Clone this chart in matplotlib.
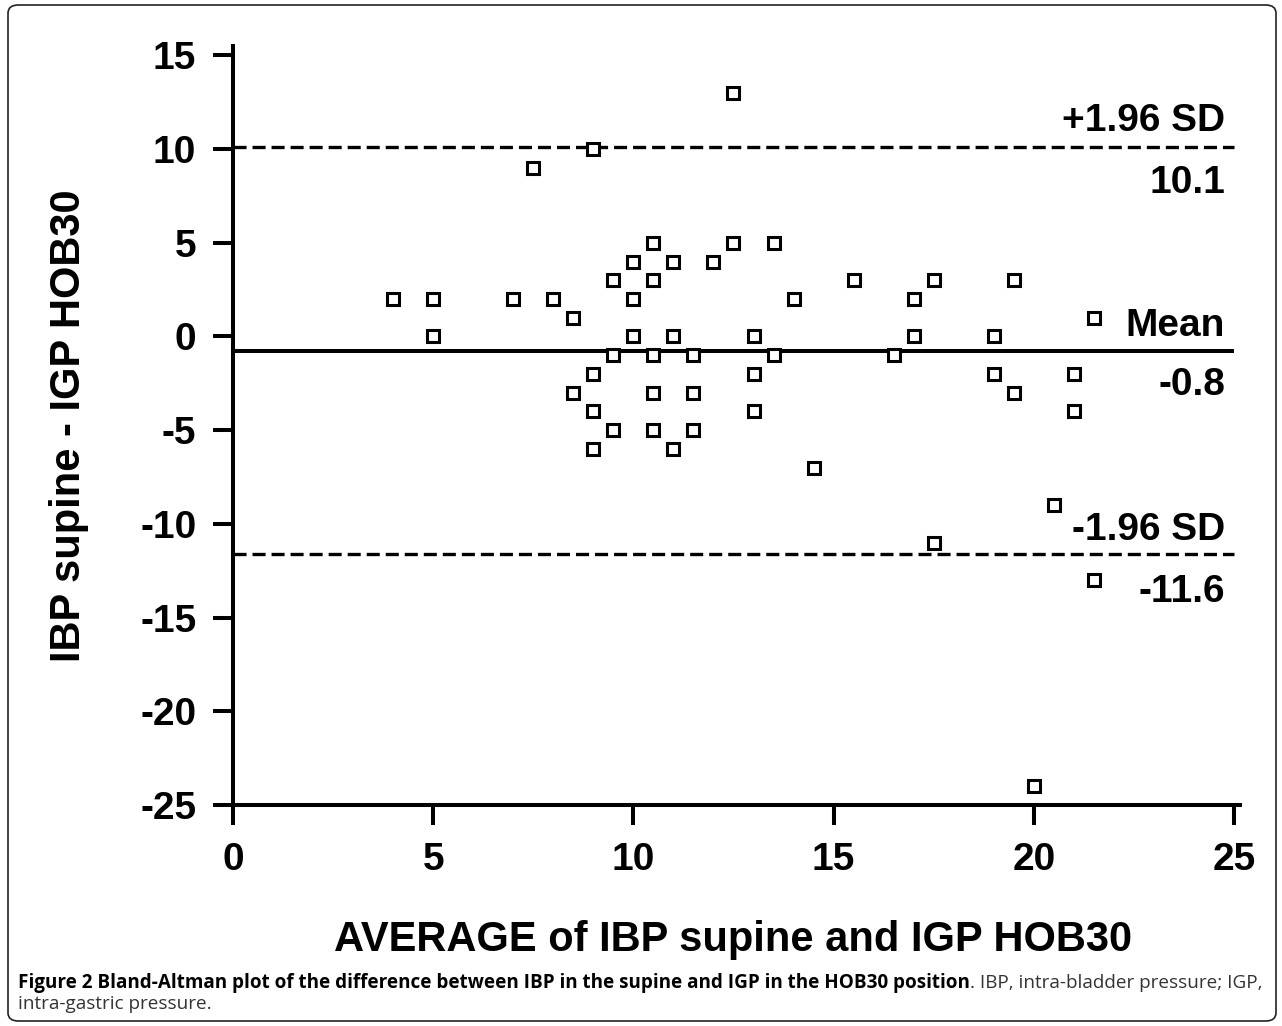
import matplotlib
matplotlib.use('Agg')
import matplotlib.pyplot as plt
from matplotlib.patches import FancyBboxPatch

# ---- data ----
avg = [4, 5, 5, 7, 8, 8.5, 9.5, 10, 10.5, 10.5, 11, 10, 12, 12.5, 13.5, 14,
       10, 11, 13, 9.5, 10.5, 11.5, 13.5, 9, 13, 8.5, 10.5, 11.5, 9, 13,
       9.5, 10.5, 11.5, 9, 11, 14.5, 12.5, 9, 7.5, 15.5, 17, 17.5, 19.5, 21.5,
       17, 19, 16.5, 19, 19.5, 21, 21, 20.5, 17.5, 21.5, 20]
diff = [2, 2, 0, 2, 2, 1, 3, 4, 5, 3, 4, 2, 4, 5, 5, 2,
        0, 0, 0, -1, -1, -1, -1, -2, -2, -3, -3, -3, -4, -4,
        -5, -5, -5, -6, -6, -7, 13, 10, 9, 3, 2, 3, 3, 1,
        0, 0, -1, -2, -3, -2, -4, -9, -11, -13, -24]
mean_diff = -0.8
upper_loa = 10.1
lower_loa = -11.6
x_ticks = [0, 5, 10, 15, 20, 25]
y_ticks = [-25, -20, -15, -10, -5, 0, 5, 10, 15]
x_label = "AVERAGE of IBP supine and IGP HOB30"
y_label = "IBP supine - IGP HOB30"
caption_bold = "Figure 2 Bland-Altman plot of the difference between IBP in the supine and IGP in the HOB30 position"
caption_rest1 = ". IBP, intra-bladder pressure; IGP,"
caption_line2 = "intra-gastric pressure."

plt.rcParams['lines.scale_dashes'] = False
plt.rcParams['axes.unicode_minus'] = False
W, H = 1282, 1026
fig = plt.figure(figsize=(W / 100, H / 100), dpi=100)
ax = fig.add_axes([233 / W, (H - 805) / H, 1007 / W, 759 / H])
ax.set_xlim(0, 25.15)
ax.set_ylim(-25, 15.5)

bold = dict(family=['Liberation Sans', 'DejaVu Sans'], weight='bold')

ax.plot(avg, diff, ls='none', marker='s', ms=8.6, mfc='white', mec='black',
        mew=2.2, zorder=3, clip_on=False)
ax.hlines(mean_diff, 0, 25, colors='black', lw=2.9, zorder=2)
for yv in (upper_loa, lower_loa):
    ax.hlines(yv, 0, 25, colors='black', lw=2.4, linestyles=(0, (9.4, 4.3)), zorder=2)

def lab(txt, yv, dy):
    ax.annotate(txt, xy=(25, yv), xytext=(-6.5, dy), textcoords='offset points',
                ha='right', va='baseline', fontsize=28, **bold)

lab('+1.96 SD', upper_loa, 11.5)
lab(f'{upper_loa:.1f}', upper_loa, -33)
lab('Mean', mean_diff, 10.8)
lab(f'{mean_diff:.1f}', mean_diff, -31)
lab('-1.96 SD', lower_loa, 10)
lab(f'{lower_loa:.1f}', lower_loa, -35)

for s in ('top', 'right'):
    ax.spines[s].set_visible(False)
for s in ('left', 'bottom'):
    ax.spines[s].set_linewidth(2.9)
ax.set_xticks(x_ticks)
ax.set_yticks(y_ticks)
ax.set_xticklabels([str(v) for v in x_ticks])
ax.set_yticklabels([str(v) for v in y_ticks])
ax.tick_params(length=14.4, width=2.9, direction='out', pad=12)
for t in ax.get_xticklabels() + ax.get_yticklabels():
    t.set_fontsize(28)
    t.set_fontfamily(['Liberation Sans', 'DejaVu Sans'])
    t.set_fontweight('bold')

fig.text(733 / W, (H - 951) / H, x_label, ha='center', va='baseline', fontsize=30, **bold)
fig.text(69 / W, (H - 426) / H, y_label, ha='center', va='center', rotation=90,
         fontsize=30, **bold)

# frame around figure
fig.patches.append(FancyBboxPatch((8 / W, 5 / H), 1268 / W, 1016 / H,
                                  boxstyle='round,pad=0,rounding_size=0.008',
                                  transform=fig.transFigure, fill=False,
                                  ec='#222222', lw=1.2))

# caption
cap_font = ['Open Sans', 'DejaVu Sans']
cs = 13.6
t1 = fig.text(18 / W, (H - 988) / H, caption_bold, ha='left', va='baseline',
              fontsize=cs, family=cap_font, weight='bold', color='black')
fig.canvas.draw()
r = fig.canvas.get_renderer()
bb = t1.get_window_extent(r)
fig.text(bb.x1 / W, (H - 988) / H, caption_rest1, ha='left', va='baseline',
         fontsize=cs, family=cap_font, color='#333333')
fig.text(18 / W, (H - 1009) / H, caption_line2, ha='left', va='baseline',
         fontsize=cs, family=cap_font, color='#333333')

fig.savefig('out.png', dpi=100)
